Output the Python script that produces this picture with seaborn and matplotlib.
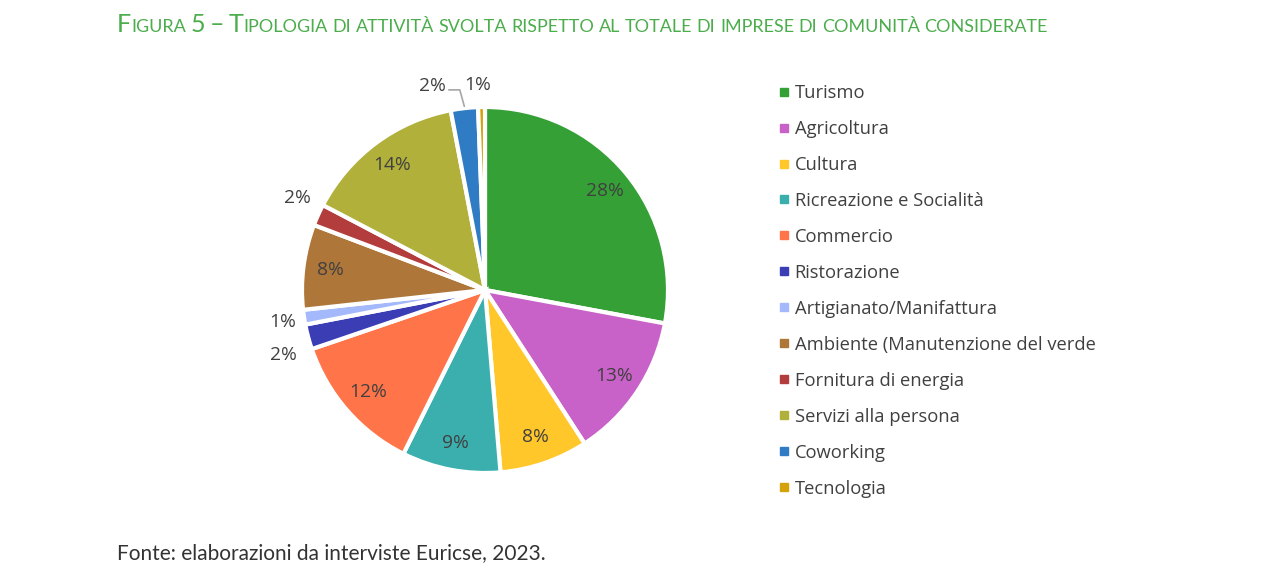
import numpy as np
import matplotlib
matplotlib.use("Agg")
import matplotlib.pyplot as plt
import seaborn as sns
from matplotlib.lines import Line2D

categories = ["Turismo", "Agricoltura", "Cultura", "Ricreazione e Socialità", "Commercio",
              "Ristorazione", "Artigianato/Manifattura", "Ambiente (Manutenzione del verde",
              "Fornitura di energia", "Servizi alla persona", "Coworking", "Tecnologia"]
values = [27.9, 12.9, 7.8, 8.7, 12.4, 2.2, 1.3, 7.5, 1.9, 14.3, 2.4, 0.6]
colors = ["#35a035", "#c862c8", "#ffc72a", "#3baeae", "#ff7448", "#3b3db5",
          "#a3b9fb", "#ae7639", "#b33c3c", "#b0b03b", "#307cc4", "#d5a20b"]
title_text = "Figura 5 – Tipologia di attività svolta rispetto al totale di imprese di comunità considerate"
source_text = "Fonte: elaborazioni da interviste Euricse, 2023."

sns.set_theme(style="white")
plt.rcParams['font.family'] = ['Open Sans', 'DejaVu Sans']

W, H = 1261, 586
fig = plt.figure(figsize=(W / 100, H / 100), dpi=100)
fig.patch.set_facecolor("white")

# pie axes in pixel layout
cx, cy, R = 485, 290, 183
half = 250
ax = fig.add_axes([(cx - half) / W, (H - (cy + half)) / H, 2 * half / W, 2 * half / H])

wedges, _ = ax.pie(values, colors=colors, startangle=90, counterclock=False,
                   radius=1.0, wedgeprops=dict(edgecolor="white", linewidth=3))
ax.set_xlim(-half / R, half / R)
ax.set_ylim(-half / R, half / R)
ax.set_aspect("equal")
ax.axis("off")

total = sum(values)
# outside labels: (angular shift in deg, radial distance)
outside = {5: (3, 1.16), 6: (0.5, 1.12), 8: (-2, 1.14), 10: (8, 1.15), 11: (1, 1.12)}
txt_color = "#404040"
lab_size = 13.8
for i, w in enumerate(wedges):
    ang = (w.theta1 + w.theta2) / 2
    lab = f"{round(values[i] / total * 100):.0f}%"
    if i in outside:
        off, r = outside[i]
        a = np.deg2rad(ang + off)
        x, y = r * np.cos(a), r * np.sin(a)
        ax.text(x, y, lab, ha="center", va="center", fontsize=lab_size, color=txt_color)
        if i == 10:
            am = np.deg2rad(ang)
            ex, ey = 1.0 * np.cos(am), 1.0 * np.sin(am)
            ax.plot([x + 0.09, x + 0.15, ex], [y - 0.02, y - 0.02, ey + 0.01],
                    color="#a6a6a6", lw=1.2)
    else:
        a = np.deg2rad(ang)
        r = 0.85
        ax.text(r * np.cos(a), r * np.sin(a), lab, ha="center", va="center",
                fontsize=lab_size, color=txt_color)

# legend
handles = [Line2D([0], [0], marker="s", linestyle="none", markersize=5.5,
                  markerfacecolor=c, markeredgecolor=c) for c in colors]
leg = fig.legend(handles, categories, loc="upper left",
                 bbox_to_anchor=(779 / W, 1 - 84 / H), frameon=False,
                 fontsize=13.2, labelspacing=0.98, handlelength=0.5,
                 handletextpad=0.35, labelcolor="#404040", borderaxespad=0,
                 borderpad=0)

# title in small caps
fig.canvas.draw()
renderer = fig.canvas.get_renderer()
green = "#4cad4c"
ybase = H - 32
big, small = 16, 11.5
words = title_text.split(" ")
pieces = []
for wi, word in enumerate(words):
    chunks = []
    for ci, ch in enumerate(word):
        is_big = (ci == 0 and ch.isupper()) or ch.isdigit() or ch == "–"
        sz = big if is_big else small
        if chunks and chunks[-1][1] == sz:
            chunks[-1][0] += ch.upper()
        else:
            chunks.append([ch.upper(), sz])
    if wi < len(words) - 1:
        chunks.append([" ", small])
    pieces.extend(chunks)


def draw_title(scale, keep):
    xpos = 117
    arts = []
    for s, sz in pieces:
        if s == " ":
            xpos += sz * scale * 0.35
            continue
        t = fig.text(xpos / W, ybase / H, s, fontsize=sz * scale, color=green,
                     family=["Lato", "DejaVu Sans"], ha="left", va="baseline")
        xpos += t.get_window_extent(renderer).width
        arts.append(t)
    if not keep:
        for t in arts:
            t.remove()
    return xpos - 117


wdt = draw_title(1.0, False)
draw_title(938 / wdt, True)

fig.text(117 / W, 1 - 559 / H, source_text, fontsize=15, color="#333333",
         family=["Lato", "DejaVu Sans"], ha="left", va="baseline")

fig.savefig("out.png", dpi=100, facecolor="white")
